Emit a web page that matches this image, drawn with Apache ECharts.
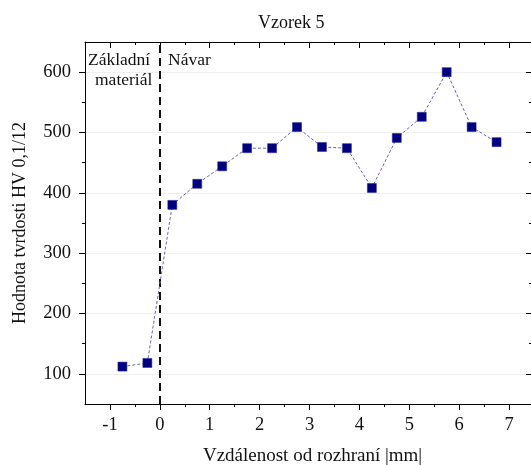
<!DOCTYPE html>
<html>
<head>
<meta charset="utf-8">
<script src="https://cdn.jsdelivr.net/npm/echarts@6/dist/echarts.min.js"></script>
<style>
  html, body { margin: 0; padding: 0; background: #fff; }
  #chart { width: 531px; height: 465px; }
</style>
</head>
<body>
<div id="chart"></div>
<script>
// Hardness profile across the interface (distance in mm, HV 0.1/12)
const distances = [-0.75, -0.25, 0.25, 0.75, 1.25, 1.75, 2.25, 2.75, 3.25, 3.75, 4.25, 4.75, 5.25, 5.75, 6.25, 6.75];
const hardness  = [112, 118, 380, 415, 444, 474, 474, 509, 476, 474, 408, 491, 526, 600, 509, 484];

// Axis ticks
const xMajorTicks = [-1, 0, 1, 2, 3, 4, 5, 6, 7];
const xMinorTicks = [-0.5, 0.5, 1.5, 2.5, 3.5, 4.5, 5.5, 6.5];
const yMajorTicks = [100, 200, 300, 400, 500, 600];
const yMinorTicks = [150, 250, 350, 450, 550];

// Interface position between base material and weld deposit
const interfaceX = 0;

const FONT = "'Liberation Serif', 'Times New Roman', serif";
const X_MIN = -1.5, X_MAX = 7.5, Y_MIN = 50, Y_MAX = 650;

function xAxisDef(position, ticks, len, inside, withLine, withLabels) {
  return {
    type: 'value', position: position, min: X_MIN, max: X_MAX, interval: 0.5,
    axisLine: { show: withLine, onZero: false, lineStyle: { color: '#000', width: 1 } },
    axisTick: { show: true, inside: inside, length: len, customValues: ticks, lineStyle: { color: '#000', width: 1 } },
    axisLabel: withLabels ? {
      show: true, customValues: xMajorTicks, margin: 12,
      fontFamily: FONT, fontSize: 18.5, color: '#111'
    } : { show: false },
    splitLine: { show: false }
  };
}
function yAxisDef(position, ticks, len, inside, withLine, withLabels) {
  return {
    type: 'value', position: position, min: Y_MIN, max: Y_MAX, interval: 50,
    axisLine: { show: withLine, onZero: false, lineStyle: { color: '#000', width: 1 } },
    axisTick: { show: true, inside: inside, length: len, customValues: ticks, lineStyle: { color: '#000', width: 1 } },
    axisLabel: withLabels ? {
      show: true, customValues: yMajorTicks, margin: 14,
      fontFamily: FONT, fontSize: 18.5, color: '#111'
    } : { show: false },
    splitLine: { show: false }
  };
}

const xMain = xAxisDef('bottom', xMajorTicks, 6, false, true, true);
xMain.name = 'Vzdálenost od rozhraní |mm|';
xMain.nameLocation = 'middle';
xMain.nameGap = 43;
xMain.nameTextStyle = { fontFamily: FONT, fontSize: 19, color: '#111', padding: [0, 0, 0, 6] };

const yMain = yAxisDef('left', yMajorTicks, 6, false, true, true);
yMain.name = 'Hodnota tvrdosti HV 0,1/12';
yMain.nameLocation = 'middle';
yMain.nameGap = 56;
yMain.nameTextStyle = { fontFamily: FONT, fontSize: 18, color: '#111' };

const chart = echarts.init(document.getElementById('chart'), null, { renderer: 'canvas' });

chart.setOption({
  animation: false,
  backgroundColor: '#fff',
  title: {
    text: 'Vzorek 5',
    left: 253, top: 9,
    textStyle: { fontFamily: FONT, fontSize: 18, fontWeight: 'normal', color: '#111' }
  },
  grid: { left: 85, right: -3, top: 42, bottom: 61, containLabel: false, outerBoundsMode: 'none' },
  xAxis: [
    xMain,
    xAxisDef('bottom', xMinorTicks, 3, false, false, false),
    xAxisDef('top', xMajorTicks, 6, true, true, false),
    xAxisDef('top', xMinorTicks, 3, true, false, false)
  ],
  yAxis: [
    yMain,
    yAxisDef('left', yMinorTicks, 3, false, false, false),
    yAxisDef('right', yMajorTicks, 8, true, true, false),
    yAxisDef('right', yMinorTicks, 5, true, false, false)
  ],
  graphic: [
    { type: 'text', left: 88, top: 51, style: { text: 'Základní', font: '17.5px ' + FONT, fill: '#111' } },
    { type: 'text', left: 95, top: 71, style: { text: 'materiál', font: '17.5px ' + FONT, fill: '#111' } },
    { type: 'text', left: 168, top: 51, style: { text: 'Návar', font: '17.5px ' + FONT, fill: '#111' } }
  ],
  series: [
    {
      // faint horizontal grid at each labelled hardness level
      type: 'line', data: [], xAxisIndex: 0, yAxisIndex: 0, silent: true, z: 1,
      markLine: {
        silent: true, symbol: 'none', label: { show: false }, z: 0,
        lineStyle: { color: '#efefef', width: 1, type: 'solid' },
        data: yMajorTicks.map(v => ({ yAxis: v }))
      }
    },
    {
      // dashed interface line
      type: 'line', data: [], xAxisIndex: 0, yAxisIndex: 0, silent: true, z: 2,
      markLine: {
        silent: true, symbol: 'none', label: { show: false }, z: 1,
        lineStyle: { color: '#111', width: 2, type: [8, 5] },
        data: [{ xAxis: interfaceX }]
      }
    },
    {
      type: 'line', xAxisIndex: 0, yAxisIndex: 0, z: 3,
      data: distances.map((d, i) => [d, hardness[i]]),
      symbol: 'rect', symbolSize: 9,
      itemStyle: { color: '#00007f', borderColor: '#20209a', borderWidth: 0.5 },
      lineStyle: { color: '#6464b4', width: 1, type: [3, 2] }
    }
  ]
});
</script>
</body>
</html>
